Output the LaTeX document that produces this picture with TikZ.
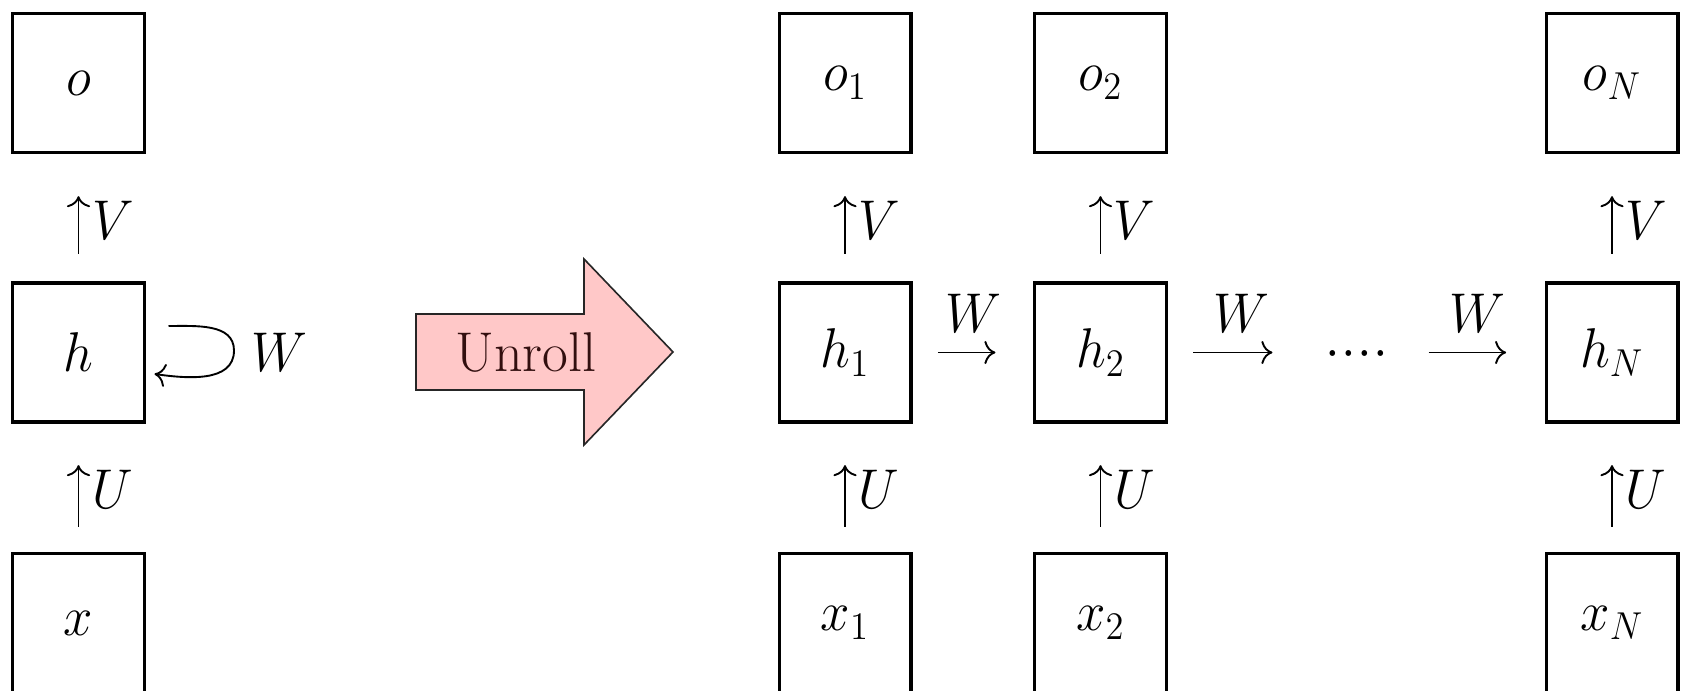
\documentclass[tikz,border=0pt]{standalone}
\usepackage{graphicx}
\usetikzlibrary{calc,arrows.meta}
\definecolor{unrollfill}{RGB}{255,200,200}
\definecolor{unrolltext}{RGB}{50,15,15}
\newcommand{\hsq}[1]{\scalebox{0.94}[1]{#1}}
\begin{document}
\begin{tikzpicture}[x=0.37pt, y=-0.37pt,
  box/.style={draw, line width=1.15pt, minimum width=48.8pt, minimum height=51.4pt, inner sep=0pt, font=\huge},
  lab/.style={inner sep=0pt, font=\huge},
  conn/.style={line width=0.7pt, -{Computer Modern Rightarrow[scale=1.3]}},
  upconn/.style={conn, shorten <=10.2pt, shorten >=15.6pt},
  upconnb/.style={conn, shorten <=9.4pt, shorten >=15.4pt}]
\useasboundingbox (0,0) rectangle (1690,691);
% folded network
\node[box] (o) at (78.5,83) {\hsq{$o$}};
\node[box] (h) at (78.5,352.5) {\hsq{$h$}};
\node[box] (x) at (78.5,623) {\hsq{$x$}};
\draw[upconn] (h) -- (o);
\draw[upconnb] (x) -- (h);
\node[lab] (lv) at (113,220) {\hsq{$V$}};
\node[lab] (lu) at (113,489) {\hsq{$U$}};
\draw[conn] ($(h.east)+(22.5,-26.5)$) to[out=0,in=90] ($(h.east)+(88,-2)$)
  to[out=-90,in=-8] ($(h.east)+(8.5,21.5)$);
\node[lab] (lw) at (279,352) {\hsq{$W$}};
% unroll arrow
\filldraw[draw=black!85, fill=unrollfill, line width=0.6pt]
  (416,314) -- (584,314) -- (584,259) -- (673,352) -- (584,445) -- (584,390) -- (416,390) -- cycle;
\node[lab, text=unrolltext] (unroll) at (526,352) {Unroll};
% unrolled network
\foreach \c/\s in {845/1, 1100.5/2, 1612/N}{
  \node[box] (o\s) at (\c,83) {\hsq{$o_\s$}};
  \node[box] (h\s) at (\c,352.5) {\hsq{$h_\s$}};
  \node[box] (x\s) at (\c,623) {\hsq{$x_\s$}};
  \draw[upconn] (h\s) -- (o\s);
  \draw[upconnb] (x\s) -- (h\s);
  \node[lab] (lv\s) at (\c+34,220) {\hsq{$V$}};
  \node[lab] (lu\s) at (\c+34,489) {\hsq{$U$}};
}
\node[lab, minimum width=37pt, anchor=base] (dots) at (1357,367) {\hsq{${\cdot}\mkern0.5mu{\cdot}\mkern0.5mu{\cdot}\mkern0.5mu{\cdot}$}};
\draw[conn, shorten <=9.4pt, shorten >=13.9pt] (h1) -- (h2);
\draw[conn, shorten <=9.4pt, shorten >=12.6pt] (h2.east) -- (dots.west |- h2.east);
\draw[conn, shorten <=7.8pt, shorten >=14.2pt] (dots.east |- hN.west) -- (hN.west);
\node[lab] (w1) at (973,313) {\hsq{$W$}};
\node[lab] (w2) at (1241,313) {\hsq{$W$}};
\node[lab] (w3) at (1477,313) {\hsq{$W$}};
\end{tikzpicture}
\end{document}
